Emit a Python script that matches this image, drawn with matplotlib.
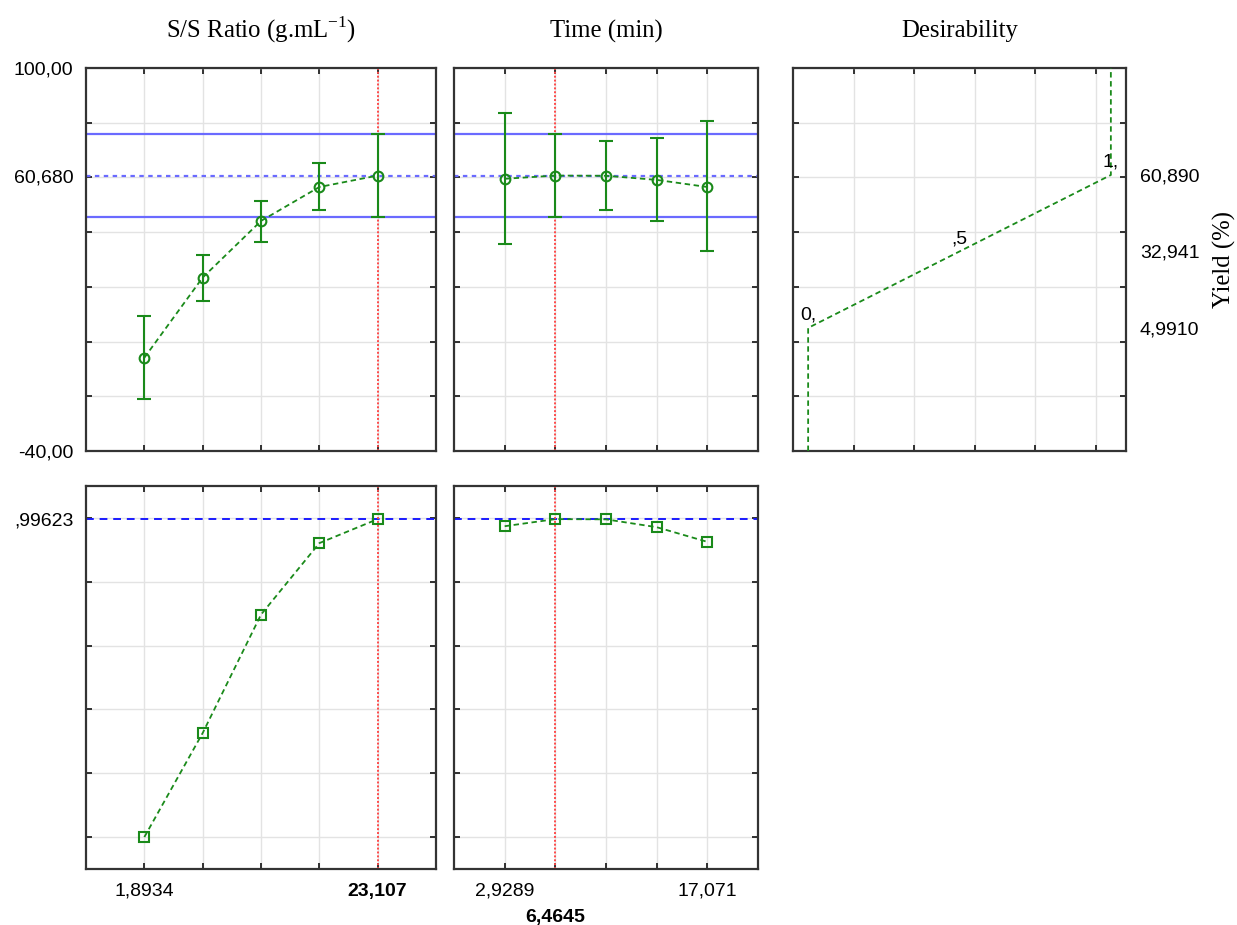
import numpy as np
import matplotlib
matplotlib.use("Agg")
import matplotlib.pyplot as plt
from matplotlib.ticker import FixedLocator, FixedFormatter

# factor levels
ss_x = [1.8934, 7.1968, 12.5, 17.8036, 23.107]
time_x = [2.9289, 6.4645, 10.0, 13.5355, 17.071]

# predicted yield (%) with confidence limits
ss_yield = [-5.9, 23.4, 44.1, 56.5, 60.68]
ss_lo = [-21.1, 14.9, 36.5, 48.1, 45.6]
ss_hi = [9.4, 31.6, 51.5, 65.1, 76.0]
time_yield = [59.5, 60.68, 60.6, 59.1, 56.5]
time_lo = [35.8, 45.6, 48.1, 44.2, 33.0]
time_hi = [83.4, 76.0, 73.3, 74.5, 80.5]

# desirability profiles
ss_des = [0.0, 0.326, 0.697, 0.921, 0.99623]
time_des = [0.974, 0.99623, 0.9955, 0.971, 0.925]

# desirability function for the response
des_x = [0, 0, 0.5, 1, 1]
des_y = [-40, 4.991, 32.941, 60.89, 100]
des_txt = ["0,", ",5", "1,"]
des_pts = [(0, 4.991), (0.5, 32.941), (1, 60.89)]

pred_yield = 60.68
ci = (45.6, 76.0)
total_des = 0.99623
opt_ss = 23.107
opt_time = 6.4645

GREEN = "#1a8a1a"
BLUE_L = "#6a6aff"
BLUE = "#1a1aff"
RED = "#ff4a4a"
plt.rcParams["font.family"] = ["Liberation Sans", "DejaVu Sans"]
plt.rcParams["font.size"] = 14
plt.rcParams["mathtext.fontset"] = "custom"
plt.rcParams["mathtext.rm"] = "Liberation Serif"

fig = plt.figure(figsize=(12.37, 9.25), dpi=100)
W, H = 1237, 925


def box(x0, y0, x1, y1):
    return fig.add_axes([x0 / W, 1 - y1 / H, (x1 - x0) / W, (y1 - y0) / H])


ax_ss = box(86, 68, 436, 451)
ax_t = box(454, 68, 758, 451)
ax_d = box(793, 68, 1126, 451)
ax_ssd = box(86, 486, 436, 869)
ax_td = box(454, 486, 758, 869)


def style(ax):
    ax.grid(True, color="#e3e3e3", lw=1)
    ax.set_axisbelow(True)
    ax.tick_params(which="major", direction="in", length=4, width=1.3,
                   top=True, right=True, labelsize=14, color="#222222")
    ax.tick_params(which="minor", length=0, labelsize=14)
    ax.tick_params(axis="y", which="both", pad=9)
    for s in ax.spines.values():
        s.set_linewidth(1.6)
        s.set_color("#333333")


def xsetup(ax, xs, labels):
    step = xs[1] - xs[0]
    ax.set_xlim(xs[0] - step, xs[-1] + step)
    ax.set_xticks(xs)
    ax.set_xticklabels(labels)


def yield_panel(ax, xs, ys, lo, hi, opt):
    style(ax)
    ax.set_ylim(-40, 100)
    ax.set_yticks(np.arange(-40, 101, 20))
    ax.axhline(ci[0], color=BLUE_L, lw=1.6, zorder=2)
    ax.axhline(ci[1], color=BLUE_L, lw=1.6, zorder=2)
    ax.axhline(pred_yield, color=BLUE_L, lw=1.6, ls=(0, (2, 2)), zorder=2)
    ax.axvline(opt, color=RED, lw=1.4, ls=(0, (1, 1)), zorder=2)
    ys = np.array(ys)
    ax.errorbar(xs, ys, yerr=[ys - np.array(lo), np.array(hi) - ys], fmt="none",
                ecolor=GREEN, elinewidth=1.5, capsize=4.8, capthick=1.5, zorder=3)
    ax.plot(xs, ys, color=GREEN, lw=1.3, ls=(0, (3, 2)), marker="o", ms=7,
            mfc="none", mec=GREEN, mew=1.5, zorder=4)


def des_panel(ax, xs, ds, opt):
    style(ax)
    ax.set_ylim(-0.1, 1.1)
    ax.set_yticks(np.arange(0, 1.01, 0.2))
    ax.axhline(total_des, color=BLUE, lw=1.4, ls=(0, (4, 3)), zorder=2)
    ax.axvline(opt, color=RED, lw=1.4, ls=(0, (1, 1)), zorder=2)
    ax.plot(xs, ds, color=GREEN, lw=1.3, ls=(0, (3, 2)), marker="s", ms=7.5,
            mfc="none", mec=GREEN, mew=1.5, zorder=4)


# top row: yield profiles
yield_panel(ax_ss, ss_x, ss_yield, ss_lo, ss_hi, opt_ss)
xsetup(ax_ss, ss_x, [""] * 5)
ax_ss.set_yticklabels(["-40,00", "", "", "", "", "", "", "100,00"])
ax_ss.yaxis.set_minor_locator(FixedLocator([pred_yield]))
ax_ss.yaxis.set_minor_formatter(FixedFormatter(["60,680"]))
ax_ss.set_title(r"S/S Ratio (g.mL$^{\rm {-}1}$)", family="Liberation Serif",
                fontsize=17.8, pad=22)

yield_panel(ax_t, time_x, time_yield, time_lo, time_hi, opt_time)
xsetup(ax_t, time_x, [""] * 5)
ax_t.set_yticklabels([])
ax_t.set_title("Time (min)", family="Liberation Serif", fontsize=17.8, pad=22)

# desirability function panel
style(ax_d)
ax_d.set_xlim(-0.05, 1.05)
ax_d.set_xticks(np.arange(0.15, 1.0, 0.2))
ax_d.set_xticklabels([])
ax_d.set_ylim(-40, 100)
ax_d.set_yticks(np.arange(-40, 101, 20))
ax_d.set_yticklabels([])
ax_d.yaxis.set_minor_locator(FixedLocator([p[1] for p in des_pts]))
ax_d.yaxis.set_minor_formatter(FixedFormatter(["4,9910", "32,941", "60,890"]))
ax_d.tick_params(which="minor", labelleft=False, labelright=True, pad=10)
ax_d.plot(des_x, des_y, color=GREEN, lw=1.3, ls=(0, (3, 2)), zorder=3)
for t, (px, py) in zip(des_txt, des_pts):
    ax_d.annotate(t, (px, py), xytext=(0, 3), textcoords="offset points",
                  ha="center", va="bottom", fontsize=14)
ax_d.yaxis.set_label_position("right")
ax_d.set_ylabel("Yield (%)", family="Liberation Serif", fontsize=17.8, labelpad=10)
ax_d.set_title("Desirability", family="Liberation Serif", fontsize=17.8, pad=22)

# bottom row: desirability profiles
des_panel(ax_ssd, ss_x, ss_des, opt_ss)
xsetup(ax_ssd, ss_x, ["1,8934", "", "", "", "23,107"])
ax_ssd.get_xticklabels()[4].set_fontweight("bold")
ax_ssd.set_yticklabels([])
ax_ssd.yaxis.set_minor_locator(FixedLocator([total_des]))
ax_ssd.yaxis.set_minor_formatter(FixedFormatter([",99623"]))

des_panel(ax_td, time_x, time_des, opt_time)
xsetup(ax_td, time_x, ["2,9289", "", "", "", "17,071"])
ax_td.set_yticklabels([])
# current time setting sits on a second label row
ax_td.annotate("6,4645", xy=(opt_time, 0), xycoords=("data", "axes fraction"),
               xytext=(0, -29), textcoords="offset points", ha="center",
               va="top", fontsize=14, fontweight="bold")

for ax in (ax_ssd, ax_td):
    ax.tick_params(axis="x", which="major", pad=10)

fig.savefig("out.png", dpi=100)
